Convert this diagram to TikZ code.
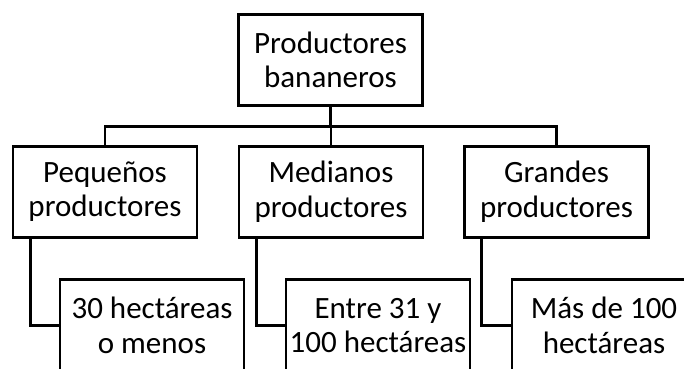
\documentclass[tikz,border=0pt]{standalone}
\usepackage{fontspec}
\setmainfont{Carlito}
\begin{document}
\begin{tikzpicture}[x=1pt,y=-1pt,
  box/.style={draw, line width=2.8pt, minimum width=184pt, minimum height=91pt,
    align=center, inner sep=0pt, font=\fontsize{31}{34.5}\selectfont},
  conn/.style={line width=2.8pt}]
\clip (0,0) rectangle (684,368);
\node[box] (top) at (330.5,60) {Productores\\bananeros};
\node[box] (peq) at (105,191.7) {Pequeños\\productores};
\node[box] (med) at (331,191.7) {Medianos\\productores};
\node[box] (gra) at (556.5,191.7) {Grandes\\productores};
\node[box] (c1) at (152,325.3) {30 hectáreas\\o menos};
\node[box] (c2) at (378,325.3) {Entre 31 y\\100 hectáreas};
\node[box] (c3) at (604,325.3) {Más de 100\\hectáreas};
\coordinate (bus) at (0,126.7);
\draw[conn] (top.south) -- (top.south |- bus);
\draw[conn] (peq.north) -- (peq.north |- bus) -- (gra.north |- bus) -- (gra.north);
\draw[conn] (med.north) -- (med.north |- bus);
\draw[conn] ([xshift=18.5pt]peq.south west) |- (c1.west);
\draw[conn] ([xshift=18.5pt]med.south west) |- (c2.west);
\draw[conn] ([xshift=18.5pt]gra.south west) |- (c3.west);
\end{tikzpicture}
\end{document}
